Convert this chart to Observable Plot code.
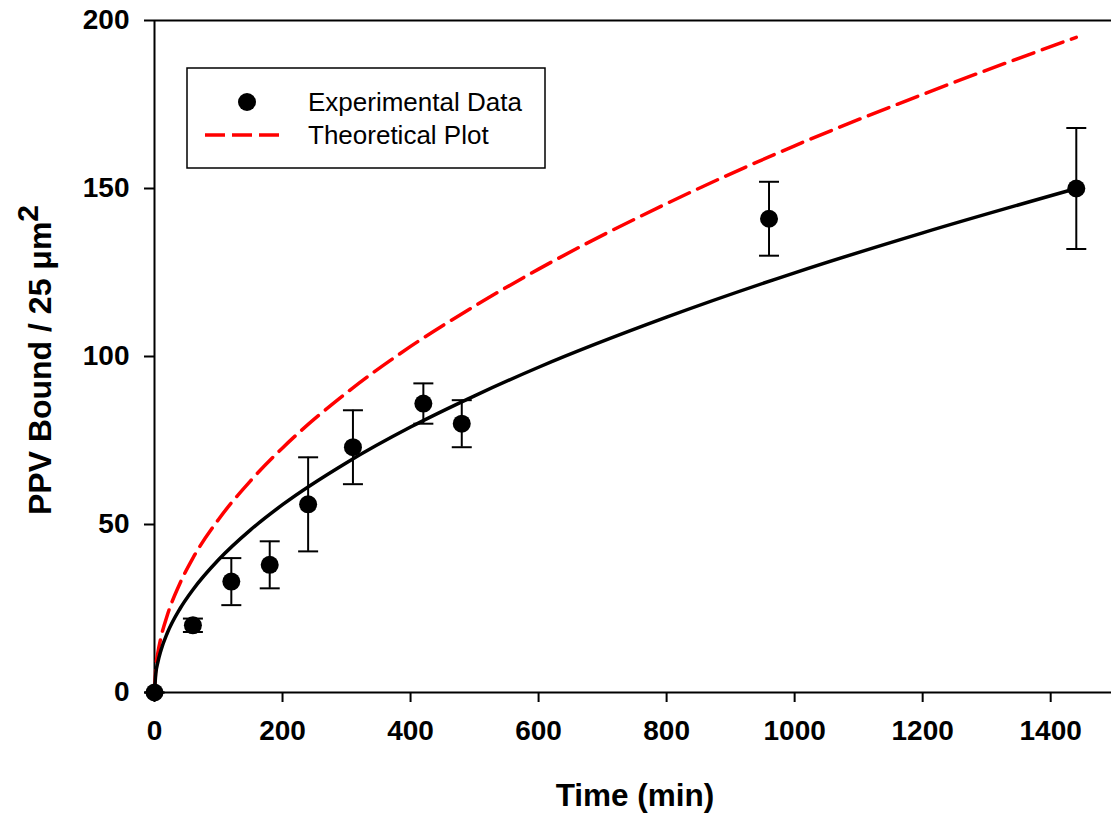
<!DOCTYPE html>
<html>
<head>
<meta charset="utf-8">
<script src="https://cdn.jsdelivr.net/npm/d3@7"></script>
<script src="https://cdn.jsdelivr.net/npm/@observablehq/plot@0.6"></script>
<style>
  body { margin: 0; background: #fff; }
  #chart svg { display: block; }
</style>
</head>
<body>
<div id="chart"></div>
<script>
// Experimental data (time in min, PPV bound per 25 µm²)
const expTime = [0, 60, 120, 180, 240, 310, 420, 480, 960, 1440];
const expValue = [0, 20, 33, 38, 56, 73, 86, 80, 141, 150];
const expLow  = [0, 18, 26, 31, 42, 62, 80, 73, 130, 132];
const expHigh = [0, 22, 40, 45, 70, 84, 92, 87, 152, 168];

// Fitted curve (black solid)
const fitTime  = [0, 2, 5, 10, 20, 40, 60, 100, 150, 200, 300, 400, 500, 600, 800, 1000, 1200, 1440];
const fitValue = [0, 5.6, 8.8, 12.5, 17.7, 25, 30.6, 39.5, 48.4, 55.9, 68.4, 79, 88.3, 96.8, 111.7, 124.9, 136.8, 150];

// Theoretical plot (red dashed)
const theoTime  = [0, 2, 5, 10, 20, 40, 60, 100, 150, 200, 300, 400, 500, 600, 800, 1000, 1200, 1440];
const theoValue = [0, 7.3, 11.5, 16.3, 23, 32.6, 40, 51.5, 63, 72.8, 89.2, 103, 115, 126, 145.5, 162.7, 178, 195];

const xTicks = [0, 200, 400, 600, 800, 1000, 1200, 1400];
const yTicks = [0, 50, 100, 150, 200];

const exp = expTime.map((t, i) => ({t, v: expValue[i], lo: expLow[i], hi: expHigh[i]}));
const fit = fitTime.map((t, i) => ({t, v: fitValue[i]}));
const theo = theoTime.map((t, i) => ({t, v: theoValue[i]}));

const cap = {draw(ctx) { ctx.moveTo(-10, 0); ctx.lineTo(10, 0); }};

const font = "'Liberation Sans', Arial, Helvetica, sans-serif";

const svg = Plot.plot({
  width: 1111,
  height: 813,
  marginLeft: 154,
  marginRight: 0,
  marginTop: 20,
  marginBottom: 121,
  style: {fontFamily: font, fontSize: "28px", fontWeight: "bold", color: "#000", background: "#fff", overflow: "visible"},
  x: {domain: [0, 1495], ticks: xTicks, tickSize: 10, tickPadding: 18, label: null, tickFormat: d => String(d)},
  y: {domain: [0, 200], ticks: yTicks, tickSize: 10, tickPadding: 15, label: null, tickFormat: d => String(d)},
  marks: [
    Plot.ruleY([200], {stroke: "#000", strokeWidth: 2}),
    Plot.ruleY([0], {stroke: "#000", strokeWidth: 2}),
    Plot.ruleX([0], {stroke: "#000", strokeWidth: 2}),
    Plot.axisX({ticks: xTicks, tickSize: 10, tickPadding: 18, strokeWidth: 2, label: null, tickFormat: d => String(d)}),
    Plot.axisY({ticks: yTicks, tickSize: 10, tickPadding: 15, strokeWidth: 2, label: null, tickFormat: d => String(d)}),
    Plot.line(theo, {x: "t", y: "v", stroke: "#ff0000", strokeWidth: 3.5, strokeDasharray: "22 9", curve: "monotone-x"}),
    Plot.line(fit, {x: "t", y: "v", stroke: "#000", strokeWidth: 3.5, curve: "monotone-x"}),
    Plot.ruleX(exp, {x: "t", y1: "lo", y2: "hi", stroke: "#000", strokeWidth: 2}),
    Plot.dot(exp, {x: "t", y: "hi", symbol: cap, stroke: "#000", strokeWidth: 2, fill: "none"}),
    Plot.dot(exp, {x: "t", y: "lo", symbol: cap, stroke: "#000", strokeWidth: 2, fill: "none"}),
    Plot.dot(exp, {x: "t", y: "v", r: 9, fill: "#000", stroke: "none"})
  ]
});

document.getElementById("chart").appendChild(svg);

const s = d3.select(svg);

// Axis titles
s.append("text")
  .attr("x", 635).attr("y", 806)
  .attr("text-anchor", "middle")
  .style("font-family", font).style("font-size", "31.5px").style("font-weight", "bold")
  .text("Time (min)");

const yt = s.append("text")
  .attr("transform", "translate(51,360) rotate(-90)")
  .attr("text-anchor", "middle")
  .style("font-family", font).style("font-size", "32px").style("font-weight", "bold");
yt.append("tspan").text("PPV Bound / 25 μm");
yt.append("tspan").attr("dy", "-13").style("font-size", "30px").text("2");

// Legend
const lg = s.append("g").style("font-family", font).style("font-weight", "normal").attr("text-anchor", "start");
lg.append("rect").attr("x", 187).attr("y", 68).attr("width", 358).attr("height", 100)
  .attr("fill", "#fff").attr("stroke", "#000").attr("stroke-width", 1.5);
lg.append("circle").attr("cx", 247).attr("cy", 102).attr("r", 9).attr("fill", "#000");
lg.append("line").attr("x1", 205).attr("x2", 280).attr("y1", 135).attr("y2", 135)
  .attr("stroke", "#ff0000").attr("stroke-width", 3.5).attr("stroke-dasharray", "20 7");
lg.append("text").attr("x", 308).attr("y", 111).attr("text-anchor", "start").style("font-size", "26px").style("font-weight", "normal").text("Experimental Data");
lg.append("text").attr("x", 308).attr("y", 144).attr("text-anchor", "start").style("font-size", "26px").style("font-weight", "normal").text("Theoretical Plot");
</script>
</body>
</html>
